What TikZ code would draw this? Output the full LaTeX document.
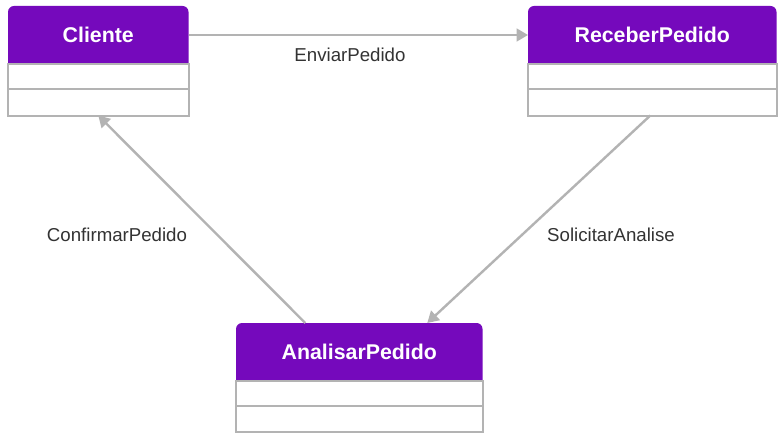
\documentclass[tikz,border=0pt]{standalone}
\usepackage{fontspec}
\setmainfont{Liberation Sans}
\usetikzlibrary{arrows.meta,calc}
\definecolor{hdrcol}{HTML}{7509BC}
\definecolor{linecol}{HTML}{B3B3B3}
\definecolor{txtcol}{HTML}{333333}
\tikzset{
  classbox/.style={anchor=north west, draw=none, inner sep=0pt, minimum width=#1},
  hdrtext/.style={text=white, font=\fontsize{16}{19}\selectfont\bfseries, inner sep=0pt},
  lbl/.style={text=txtcol, font=\fontsize{14}{17}\selectfont, inner sep=0pt},
  boxline/.style={draw=linecol, line width=1.5pt},
  arr/.style={draw=linecol, line width=1.8pt, -{Triangle[length=8.5pt,width=9.5pt]}},
}
\newcommand{\umlclass}[3]{%
  \fill[hdrcol, rounded corners=4.5pt] (#1.north west) rectangle ($(#1.north east)+(0,66)$);
  \draw[boxline, fill=white] ($(#1.north west)+(0,58)$) rectangle (#1.south east);
  \draw[boxline] ($(#1.north west)+(0,83)$) -- ($(#1.north east)+(0,83)$);
  \node[hdrtext] (#2) at ($(#1.north)+(0,29)$) {#3};
}
\begin{document}
\begin{tikzpicture}[x=0.75pt,y=-0.75pt]
\useasboundingbox[fill=white] (0,0) rectangle (784,441);
\node[classbox=135pt, minimum height=81.75pt] (cli) at (8,6) {};
\node[classbox=186pt, minimum height=81.75pt] (rec) at (528,6) {};
\node[classbox=184.5pt, minimum height=81pt] (ana) at (236,323) {};
\umlclass{cli}{clit}{Cliente}
\umlclass{rec}{rect}{ReceberPedido}
\umlclass{ana}{anat}{AnalisarPedido}
\draw[arr] ($(cli.north east)+(0,29)$) -- ($(rec.north west)+(0,29)$);
\draw[arr] ($(rec.south)+(-2,0)$) -- ($(ana.north)+(68,0)$);
\draw[arr] ($(ana.north)+(-54,0)$) -- (cli.south);
\node[lbl] (l1) at (350,55) {EnviarPedido};
\node[lbl] (l2) at (611,235) {SolicitarAnalise};
\node[lbl] (l3) at (117,235) {ConfirmarPedido};
\end{tikzpicture}
\end{document}
